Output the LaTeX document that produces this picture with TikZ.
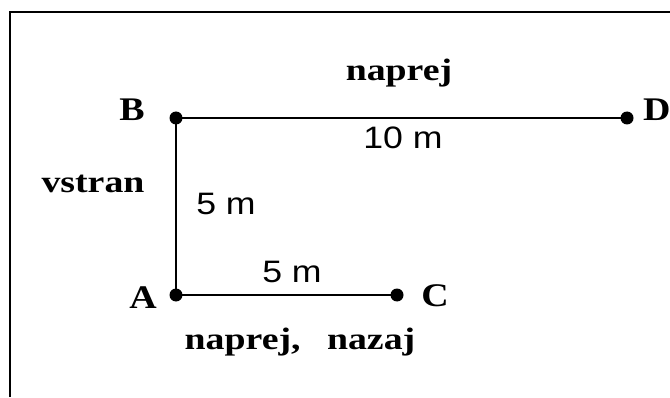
\documentclass[tikz,border=0pt]{standalone}
\usepackage{fontspec}
\setmainfont{Liberation Serif}
\setsansfont{Liberation Sans}
\usepackage{tikz}
\usetikzlibrary{positioning}
\tikzset{
    % dot at a point of the path
    tocka/.style={
        circle, fill=black, draw=none,
        minimum size=13pt, inner sep=0pt
    },
    % letter next to a point
    tockaime/.style={
        font=\fontsize{33}{33}\selectfont\bfseries,
        inner sep=0pt, xscale=1.15
    },
    % word describing a move
    smer/.style={
        font=\fontsize{31}{31}\selectfont\bfseries,
        inner sep=0pt, xscale=1.22
    },
    % length of a segment
    dolzina/.style={
        font=\fontsize{31}{31}\selectfont\sffamily,
        inner sep=0pt, xscale=1.15
    },
    pot/.style={line width=2pt},
}
\begin{document}
\begin{tikzpicture}[x=1pt,y=1pt]
  \useasboundingbox (0,0) rectangle (670,397);
  % frame, open at right and bottom
  \draw[line width=1.6pt] (10,0) -- (10,385) -- (670,385);
  % points
  \node[tocka] (A) at (176,102) {};
  \node[tocka] (B) at (176,279) {};
  \node[tocka] (C) at (397,102) {};
  \node[tocka] (D) at (627,279) {};
  \draw[pot] (A.center) -- (B.center) -- (D.center);
  \draw[pot] (A.center) -- (C.center);
  % point letters
  \node[tockaime] (Aime) at (143,99) {A};
  \node[tockaime] (Bime) at (132,287) {B};
  \node[tockaime] (Cime) at (435,101) {C};
  \node[tockaime,anchor=west] (Dime) at (643,287) {D};
  % moves and lengths
  \node[smer] (gor) at (399,324) {naprej};
  \node[smer] (levo) at (93,213) {vstran};
  \node[smer] (dol) at (300,55) {naprej,\hspace{0.7em}nazaj};
  \node[dolzina] (BD) at (403,259) {10 m};
  \node[dolzina] (AB) at (226,193) {5 m};
  \node[dolzina] (AC) at (292,125) {5 m};
\end{tikzpicture}
\end{document}
